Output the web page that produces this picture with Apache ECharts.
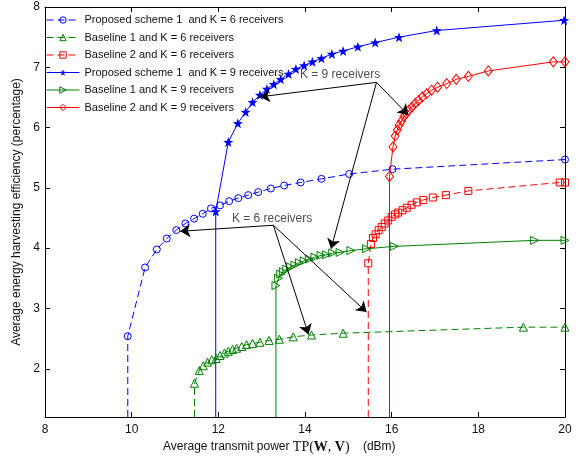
<!DOCTYPE html>
<html><head><meta charset="utf-8">
<script src="https://cdn.jsdelivr.net/npm/echarts@6/dist/echarts.min.js"></script>
<style>html,body{margin:0;padding:0;background:#fff}#c{width:584px;height:458px}</style>
</head><body><div id="c"></div>
<script>
// ---- axis settings ----
const xTicks = [8, 10, 12, 14, 16, 18, 20];
const yTicks = [2, 3, 4, 5, 6, 7, 8];
const yMin = 1.2, yMax = 8;

// ---- series names ----
const names = [
  'Proposed scheme 1  and K = 6 receivers',
  'Baseline 1 and K = 6 receivers',
  'Baseline 2 and K = 6 receivers',
  'Proposed scheme 1  and K = 9 receivers',
  'Baseline 1 and K = 9 receivers',
  'Baseline 2 and K = 9 receivers'
];

// ---- data (first point: line drops to the axis bottom) ----
const prop6X = [9.91, 9.91, 10.31, 10.58, 10.81, 11.03, 11.24, 11.44, 11.64, 11.83, 12.04, 12.25, 12.46, 12.69, 12.92, 13.21, 13.52, 13.90, 14.38, 15.02, 16.02, 20.0];
const prop6Y = [1.2, 2.54, 3.68, 3.98, 4.16, 4.30, 4.41, 4.49, 4.57, 4.66, 4.71, 4.78, 4.83, 4.88, 4.93, 4.99, 5.04, 5.09, 5.15, 5.23, 5.31, 5.47];

const base1K6X = [11.45, 11.45, 11.56, 11.65, 11.75, 11.85, 11.95, 12.04, 12.14, 12.23, 12.33, 12.42, 12.54, 12.65, 12.79, 12.96, 13.17, 13.41, 13.73, 14.15, 14.88, 19.04, 20.0];
const base1K6Y = [1.2, 1.76, 1.97, 2.05, 2.11, 2.15, 2.17, 2.22, 2.26, 2.29, 2.32, 2.34, 2.37, 2.40, 2.42, 2.44, 2.47, 2.49, 2.53, 2.56, 2.59, 2.69, 2.69];

const base2K6X = [15.46, 15.46, 15.52, 15.57, 15.63, 15.70, 15.77, 15.84, 15.92, 16.00, 16.08, 16.15, 16.25, 16.35, 16.46, 16.58, 16.73, 16.95, 17.25, 17.77, 19.88, 20.0];
const base2K6Y = [1.2, 3.75, 4.07, 4.17, 4.23, 4.30, 4.35, 4.41, 4.46, 4.52, 4.56, 4.59, 4.63, 4.67, 4.72, 4.76, 4.80, 4.84, 4.88, 4.95, 5.09, 5.09];

const prop9X = [11.94, 11.94, 12.23, 12.45, 12.63, 12.79, 12.96, 13.12, 13.28, 13.44, 13.62, 13.79, 13.98, 14.17, 14.38, 14.62, 14.88, 15.22, 15.62, 16.17, 17.04, 19.98];
const prop9Y = [1.2, 4.61, 5.76, 6.07, 6.26, 6.42, 6.54, 6.64, 6.72, 6.80, 6.89, 6.97, 7.03, 7.09, 7.15, 7.22, 7.27, 7.34, 7.41, 7.50, 7.61, 7.78];

const base1K9X = [13.33, 13.33, 13.39, 13.44, 13.50, 13.58, 13.67, 13.77, 13.87, 13.98, 14.10, 14.23, 14.37, 14.50, 14.64, 14.81, 15.06, 15.42, 16.06, 19.30, 20.0];
const base1K9Y = [1.2, 3.38, 3.50, 3.57, 3.61, 3.65, 3.69, 3.72, 3.76, 3.79, 3.82, 3.85, 3.88, 3.89, 3.92, 3.93, 3.96, 3.99, 4.03, 4.13, 4.13];

const base2K9X = [15.95, 15.95, 16.03, 16.08, 16.13, 16.17, 16.23, 16.28, 16.34, 16.40, 16.47, 16.54, 16.62, 16.71, 16.81, 16.92, 17.06, 17.27, 17.49, 17.77, 18.23, 19.73, 20.0];
const base2K9Y = [1.2, 5.19, 5.68, 5.86, 5.96, 6.04, 6.11, 6.18, 6.23, 6.29, 6.34, 6.40, 6.45, 6.51, 6.56, 6.62, 6.67, 6.73, 6.80, 6.85, 6.94, 7.09, 7.09];

// ---- annotations (data coordinates) ----
const annoTexts = ['K = 9 receivers', 'K = 6 receivers'];
const annoTextPos = [[14.81, 6.87], [13.24, 4.49]];
const annoOrigins = [[15.65, 6.75], [13.27, 4.38]];
const annoTips = [
  [[12.96, 6.51], [16.38, 6.21], [14.60, 3.99]],
  [[11.12, 4.28], [14.08, 2.57], [15.42, 2.94]]
];

const BLUE = '#0000ff', GREEN = '#008000', RED = '#ff0000';
const STAR = 'path://M0,-10L2.35,-3.24L9.51,-3.09L3.8,1.24L5.88,8.09L0,4L-5.88,8.09L-3.8,1.24L-9.51,-3.09L-2.35,-3.24Z';
const FONT = 'Liberation Sans, Arial, Helvetica, sans-serif';
const HOLLOW = 'rgba(255,255,255,0)';

function build(xs, ys) {
  return xs.map((x, i) => {
    const d = { value: [x, ys[i]] };
    if (ys[i] <= yMin) d.symbol = 'none';
    return d;
  });
}

const styles = [
  { color: BLUE, dashed: true, symbol: 'circle', size: 7, hollow: true },
  { color: GREEN, dashed: true, symbol: 'triangle', size: 8, hollow: true },
  { color: RED, dashed: true, symbol: 'rect', size: 7, hollow: true },
  { color: BLUE, dashed: false, symbol: STAR, size: 10, hollow: false },
  { color: GREEN, dashed: false, symbol: 'triangle', size: 8, hollow: true, rotate: -90 },
  { color: RED, dashed: false, symbol: 'diamond', size: [8, 10], hollow: true }
];
const xsList = [prop6X, base1K6X, base2K6X, prop9X, base1K9X, base2K9X];
const ysList = [prop6Y, base1K6Y, base2K6Y, prop9Y, base1K9Y, base2K9Y];

function itemStyleOf(s) {
  return s.hollow ? { color: HOLLOW, borderColor: s.color, borderWidth: 1 }
                  : { color: s.color, borderColor: s.color, borderWidth: 0 };
}

const series = names.map((name, k) => {
  const s = styles[k];
  return {
    name, type: 'line', data: build(xsList[k], ysList[k]),
    symbol: s.symbol, symbolSize: s.size, symbolRotate: s.rotate || 0,
    showAllSymbol: true, animation: false, clip: true,
    lineStyle: { color: s.color, width: 1, type: s.dashed ? [7, 4] : 'solid' },
    itemStyle: itemStyleOf(s),
    emphasis: { disabled: true }
  };
});

// annotation arrows
const arrowData = [];
annoOrigins.forEach((o, k) => {
  annoTips[k].forEach(t => arrowData.push([{ coord: o }, { coord: t }]));
});
series.push({
  name: 'annotations', type: 'line', data: [], silent: true, animation: false,
  markLine: {
    silent: true, animation: false, symbol: ['none', 'arrow'], symbolSize: 10,
    lineStyle: { color: '#000', width: 1, type: 'solid' },
    label: { show: false },
    emphasis: { disabled: true },
    data: arrowData
  }
});
series.push({
  name: 'annoText', type: 'scatter', silent: true, animation: false,
  symbolSize: 0,
  data: annoTexts.map((t, i) => ({ name: t, value: annoTextPos[i] })),
  label: { show: true, position: 'inside', formatter: p => p.name,
           color: '#222', fontSize: 12, fontFamily: FONT },
  z: 5
});

const legendData = names.map((name, k) => {
  const s = styles[k];
  return {
    name,
    itemStyle: itemStyleOf(s),
    lineStyle: { color: s.color, width: 1, type: s.dashed ? [7, 4] : 'solid' }
  };
});

const chart = echarts.init(document.getElementById('c'), null, { renderer: 'canvas' });
chart.setOption({
  backgroundColor: '#fff',
  animation: false,
  grid: { left: 45, right: 19, top: 7, bottom: 41 },
  legend: {
    data: legendData, orient: 'vertical', left: 46, top: 13.5,
    itemWidth: 33, itemHeight: 8, itemGap: 4.5, padding: 0,
    textStyle: { fontSize: 11, fontFamily: FONT, color: '#111', lineHeight: 13 },
    selectedMode: false
  },
  xAxis: [
    { type: 'value', min: 8, max: 20, interval: 2, position: 'bottom',
      axisLine: { show: true, lineStyle: { color: '#000', width: 1 } },
      axisTick: { show: true, inside: true, length: 5, lineStyle: { color: '#000' } },
      axisLabel: { color: '#111', fontSize: 12, fontFamily: FONT, margin: 7 },
      splitLine: { show: false } },
    { type: 'value', min: 8, max: 20, interval: 2, position: 'top',
      axisLine: { show: true, lineStyle: { color: '#000', width: 1 } },
      axisTick: { show: true, inside: true, length: 5, lineStyle: { color: '#000' } },
      axisLabel: { show: false }, splitLine: { show: false } }
  ],
  yAxis: [
    { type: 'value', min: yMin, max: yMax, position: 'left',
      name: 'Average energy harvesting efficiency (percentage)',
      nameLocation: 'middle', nameGap: 16,
      nameTextStyle: { fontSize: 12, fontFamily: FONT, color: '#111' },
      axisLine: { show: true, lineStyle: { color: '#000', width: 1 } },
      axisTick: { show: true, inside: true, length: 5, customValues: yTicks, lineStyle: { color: '#000' } },
      axisLabel: { color: '#111', fontSize: 12, fontFamily: FONT, margin: 5, customValues: yTicks },
      splitLine: { show: false } },
    { type: 'value', min: yMin, max: yMax, position: 'right',
      axisLine: { show: true, lineStyle: { color: '#000', width: 1 } },
      axisTick: { show: true, inside: true, length: 5, customValues: yTicks, lineStyle: { color: '#000' } },
      axisLabel: { show: false, customValues: yTicks }, splitLine: { show: false } }
  ],
  graphic: [{
    type: 'text', left: 163, top: 440,
    style: {
      text: '{a|Average transmit power }{s|TP(}{b|W}{s|, }{b|V}{s|)}{a|    (dBm)}',
      rich: {
        a: { fontSize: 12, fontFamily: FONT, fill: '#111' },
        s: { fontSize: 14, fontFamily: 'Liberation Serif, DejaVu Serif, serif', fill: '#111' },
        b: { fontSize: 14, fontFamily: 'Liberation Serif, DejaVu Serif, serif', fontWeight: 'bold', fill: '#111' }
      }
    }
  }],
  series
});
</script></body></html>
